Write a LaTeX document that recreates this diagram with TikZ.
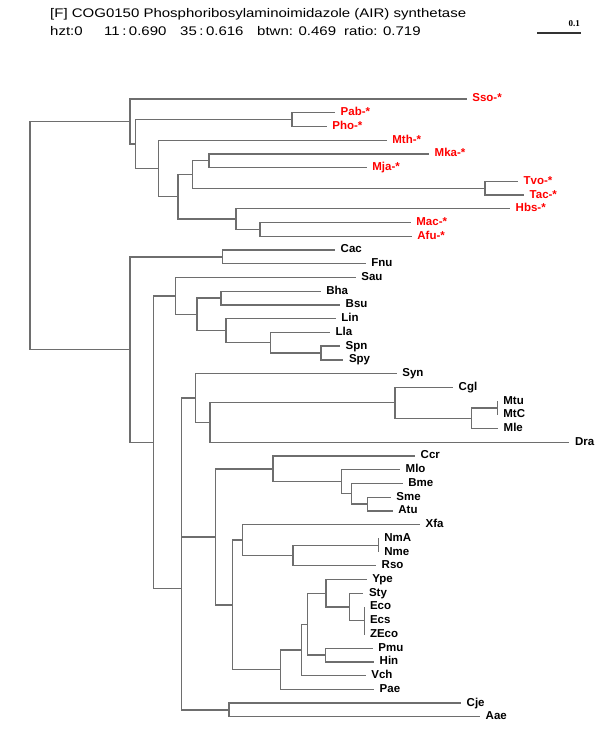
\documentclass[tikz,border=0pt]{standalone}
\usepackage{graphicx}
\usepackage{fontspec}
\setmainfont{Liberation Sans}
\newfontfamily\barfont{Liberation Serif}
\definecolor{treegrey}{HTML}{6E6E6E}
\newcommand{\widetext}[1]{\scalebox{1.2}[1]{#1}}
\begin{document}
\begin{tikzpicture}[x=1pt,y=-1pt,every node/.style={inner sep=0pt},
  leaf/.style={anchor=west,inner xsep=5.5pt,text height=8.3pt,text depth=2.4pt,font=\fontsize{11.5}{13}\selectfont\bfseries},
  arch/.style={leaf,text=red},
  branch/.style={draw=treegrey,line width=1.25pt},
  head/.style={anchor=base west,font=\fontsize{12.5}{14}\selectfont}]
\useasboundingbox (0,0) rectangle (600,750);
% header
\node[head] (title) at (50,17.5) {\widetext{[F] COG0150 Phosphoribosylaminoimidazole (AIR) synthetase}};
\foreach \i/\x/\t in {1/50/{hzt:0},2/104/{11\,:\,0.690},3/180/{35\,:\,0.616},4/257/{btwn: 0.469},5/344/{ratio: 0.719}}
  \node[head] (stat\i) at (\x,35.5) {\widetext{\t}};
% scale bar
\coordinate (bar0) at (537,33);
\coordinate (bar1) at (581,33);
\draw[line width=1.2pt,black!80] (bar0) -- (bar1);
\node[anchor=base east,font=\barfont\fontsize{9}{10}\selectfont\bfseries] (barlabel) at (580,26) {0.1};
% leaves
\foreach \n/\x/\y in {Sso/466.7/99.0,Pab/335/112.7,Pho/326.7/126.5,Mth/386.7/140.2,Mka/429/153.9,
  Mja/366.7/167.7,Tvo/518/181.4,Tac/524/195.1,Hbs/510/208.8,Mac/410.7/222.6,Afu/411.7/236.3}
  \node[arch] (\n) at (\x,\y) {\n-*};
\foreach \n/\x/\y in {Cac/335/250.0,Fnu/365.7/263.8,Sau/355.7/277.5,Bha/320.7/291.2,Bsu/340/305.0,
  Lin/335.7/318.7,Lla/330/332.4,Spn/340/346.1,Spy/343.3/359.9,Syn/396.7/373.6,Cgl/453/387.3,
  Mtu/497.7/401.1,MtC/497.7/414.8,Mle/498/428.5,Dra/569.3/442.3,Ccr/415/456.0,Mlo/400/469.7,
  Bme/402.7/483.4,Sme/390.7/497.2,Atu/392.7/510.9,Xfa/420/524.6,NmA/378.7/538.4,Nme/378.7/552.1,
  Rso/376/565.8,Ype/366.7/579.6,Sty/363.3/593.3,Eco/364.3/607.0,Ecs/364.3/620.7,ZEco/364.3/634.5,
  Pmu/372.7/648.2,Hin/374/661.9,Vch/365.7/675.7,Pae/374/689.4,Cje/461/703.1,Aae/480/716.8}
  \node[leaf] (\n) at (\x,\y) {\n};
% inner nodes
\foreach \n/\x/\y in {root/30/235.6,a1/130/121.5,a2/135.7/144.05,pp/292/119.6,a3/158.7/168.5,
  a4/178/196.8,a5/192.7/174.5,a7/209/160.8,tt/485/188.25,a6/236/219.1,ma/260/229.45,
  b1/130/349.6,cf/222.7/256.9,b2/153.7/442.35,f1/175.7/296.0,f2/197/314.4,bb/221/298.1,
  f3/226/330.7,f4/270.7/342.7,sp/321/353.0,b3/181.7/588.7,ca/229/709.95,b5/181.7/467.5,
  b6/195.7/398.1,b8/210/422.5,b9/395/402.8,b10/471.7/418.2,mm/497.7/407.95,
  b7/215.7/536.9,b11/273/468.9,b13/341.7/481.7,b14/351.7/493.7,b15/367.7/504.05,
  b12/232.7/604.9,b16/242.7/540.1,b18/293/555.5,nn/378.7/545.25,
  b17/280.7/669.7,b19/301.7/649.9,b20/307.7/624.2,b21/326/593.3,b22/349.3/607.0,
  ee/364.3/620.7,ph/325.7/655.05}
  \coordinate (\n) at (\x,\y);
% branches
\foreach \p/\c in {root/a1,root/b1,
  a1/Sso,a1/a2,a2/pp,a2/a3,pp/Pab,pp/Pho,a3/Mth,a3/a4,a4/a5,a4/a6,a5/a7,a5/tt,
  a7/Mka,a7/Mja,tt/Tvo,tt/Tac,a6/Hbs,a6/ma,ma/Mac,ma/Afu,
  b1/cf,b1/b2,cf/Cac,cf/Fnu,b2/f1,b2/b3,f1/Sau,f1/f2,f2/bb,f2/f3,bb/Bha,bb/Bsu,
  f3/Lin,f3/f4,f4/Lla,f4/sp,sp/Spn,sp/Spy,
  b3/b5,b3/ca,ca/Cje,ca/Aae,b5/b6,b5/b7,b6/Syn,b6/b8,b8/b9,b8/Dra,b9/Cgl,b9/b10,
  b10/mm,b10/Mle,mm/Mtu,mm/MtC,
  b7/b11,b7/b12,b11/Ccr,b11/b13,b13/Mlo,b13/b14,b14/Bme,b14/b15,b15/Sme,b15/Atu,
  b12/b16,b12/b17,b16/Xfa,b16/b18,b18/nn,b18/Rso,nn/NmA,nn/Nme,
  b17/b19,b17/Pae,b19/b20,b19/Vch,b20/b21,b20/ph,b21/Ype,b21/b22,b22/Sty,b22/ee,
  ee/Eco,ee/Ecs,ee/ZEco,ph/Pmu,ph/Hin}
  \draw[branch] (\p) |- (\c);
\end{tikzpicture}
\end{document}
